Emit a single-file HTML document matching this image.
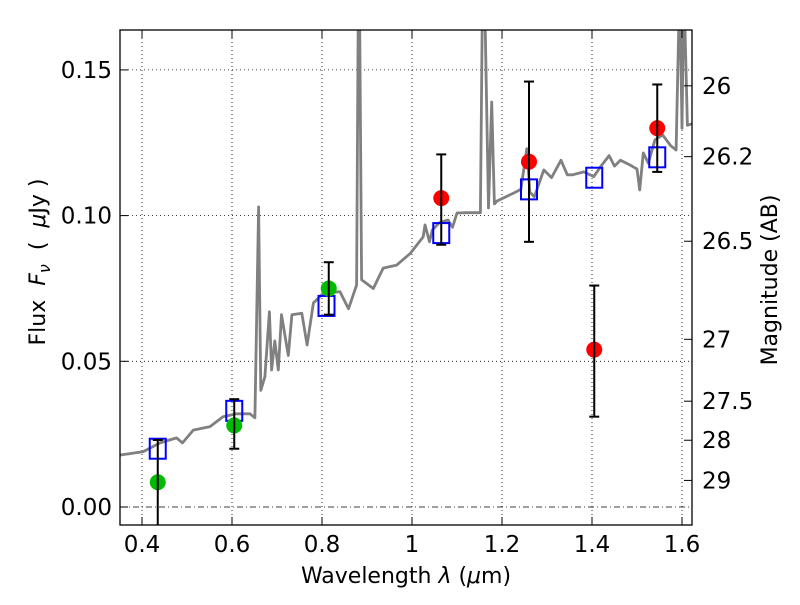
<!DOCTYPE html>
<html><head><meta charset="utf-8"><style>
body{margin:0;background:#fff;}
svg{font-family:"DejaVu Sans","Liberation Sans",sans-serif;}
</style></head><body>
<svg id="chart" width="800" height="600" xmlns="http://www.w3.org/2000/svg">
<defs><clipPath id="clip"><rect x="120" y="30" width="572" height="495"/></clipPath></defs>
<rect x="0" y="0" width="800" height="600" fill="#fff"/>
<g id="grid"></g>
<g id="series" clip-path="url(#clip)"></g>
<rect x="120" y="30" width="572" height="495" fill="none" stroke="#000" stroke-width="1.3"/>
<g id="axes"></g>
<text x="406" y="583" font-size="22" text-anchor="middle">Wavelength  <tspan font-style="italic">λ</tspan> (<tspan font-style="italic">μ</tspan>m)</text>
<text transform="translate(45,262) rotate(-90)" font-size="22" text-anchor="middle" xml:space="preserve">Flux  <tspan font-style="italic">F</tspan><tspan font-style="italic" font-size="16" dy="5">ν</tspan><tspan dy="-5">  (  </tspan><tspan font-style="italic">μ</tspan>Jy )</text>
<text transform="translate(777,280) rotate(-90)" font-size="22" text-anchor="middle">Magnitude (AB)</text>
</svg>
<script>
const specLam=[0.351,0.403,0.44,0.477,0.49,0.514,0.551,0.58,0.61,0.64,0.651,0.659,0.664,0.673,0.683,0.688,0.695,0.703,0.71,0.725,0.733,0.755,0.767,0.781,0.803,0.84,0.859,0.877,0.881,0.883,0.888,0.914,0.936,0.966,0.996,1.025,1.029,1.039,1.045,1.06,1.08,1.09,1.1,1.12,1.152,1.157,1.161,1.17,1.177,1.183,1.189,1.225,1.242,1.255,1.262,1.272,1.293,1.31,1.331,1.345,1.357,1.382,1.404,1.42,1.438,1.45,1.463,1.484,1.5,1.506,1.514,1.525,1.54,1.557,1.575,1.587,1.595,1.6,1.604,1.612,1.622];
const specFlux=[0.0178,0.019,0.022,0.0237,0.022,0.0264,0.0276,0.031,0.032,0.032,0.0306,0.103,0.040,0.0447,0.067,0.047,0.057,0.047,0.066,0.052,0.066,0.0665,0.0556,0.070,0.0734,0.0739,0.068,0.0762,0.18,0.18,0.078,0.075,0.082,0.083,0.087,0.0927,0.0968,0.091,0.095,0.0975,0.0985,0.096,0.1009,0.101,0.101,0.18,0.18,0.1026,0.139,0.104,0.105,0.1077,0.109,0.123,0.108,0.1065,0.1157,0.113,0.119,0.114,0.114,0.115,0.1134,0.117,0.1206,0.117,0.119,0.1174,0.116,0.1088,0.1215,0.118,0.126,0.1277,0.124,0.1225,0.18,0.13,0.18,0.131,0.1315];
const greenLam=[0.435,0.605,0.815];
const greenFlux=[0.0085,0.028,0.075];
const greenLo=[-0.007,0.020,0.066];
const greenHi=[0.023,0.037,0.084];
const redLam=[1.065,1.26,1.405,1.545];
const redFlux=[0.106,0.1185,0.054,0.130];
const redLo=[0.090,0.091,0.031,0.115];
const redHi=[0.121,0.146,0.076,0.145];
const modelLam=[0.435,0.605,0.81,1.065,1.26,1.405,1.545];
const modelFlux=[0.020,0.033,0.069,0.094,0.109,0.113,0.120];
const xTicks=[0.4,0.6,0.8,1.0,1.2,1.4,1.6];
const xTickLabels=["0.4","0.6","0.8","1","1.2","1.4","1.6"];
const yTicks=[0,0.05,0.10,0.15];
const yTickLabels=["0.00","0.05","0.10","0.15"];
const magTicks=[26,26.2,26.5,27,27.5,28,29];
const magTickLabels=["26","26.2","26.5","27","27.5","28","29"];

const NS="http://www.w3.org/2000/svg";
const X=l=>142+(l-0.4)*450;
const Y=f=>507-f*2914;
const magToFlux=m=>Math.pow(10,(23.9-m)/2.5);
function mk(tag,attrs,parent){const e=document.createElementNS(NS,tag);for(const k in attrs)e.setAttribute(k,attrs[k]);parent.appendChild(e);return e;}
const grid=document.getElementById('grid'),series=document.getElementById('series'),axes=document.getElementById('axes');

xTicks.forEach((v,i)=>{
  const g=mk('line',{x1:X(v),x2:X(v),y1:30,y2:525,stroke:'#000','stroke-width':0.8,'stroke-dasharray':'1,3'},grid);
  
  
  mk('line',{x1:X(v),x2:X(v),y1:525,y2:517,stroke:'#000'},axes);
  mk('line',{x1:X(v),x2:X(v),y1:30,y2:38,stroke:'#000'},axes);
  const t=mk('text',{x:X(v),y:552,'font-size':23,'text-anchor':'middle'},axes);
  t.textContent=xTickLabels[i];
  
  
});
yTicks.forEach((v,i)=>{
  const g=mk('line',{x1:120,x2:692,y1:Y(v),y2:Y(v),stroke:'#000','stroke-width':0.8,'stroke-dasharray':v===0?'6,3,1,3':'1,3'},grid);
  
  
  mk('line',{x1:120,x2:128,y1:Y(v),y2:Y(v),stroke:'#000'},axes);
  const t=mk('text',{x:112,y:Y(v)+8,'font-size':23,'text-anchor':'end'},axes);
  t.textContent=yTickLabels[i];
  
  
});
magTicks.forEach((m,i)=>{
  const y=Y(magToFlux(m));
  mk('line',{x1:692,x2:684,y1:y,y2:y,stroke:'#000'},axes);
  const t=mk('text',{x:702,y:y+8,'font-size':23,'text-anchor':'start'},axes);
  t.textContent=magTickLabels[i];
  
  
});

const pts=specLam.map((l,i)=>X(l).toFixed(1)+','+Y(specFlux[i]).toFixed(1)).join(' ');
const sp=mk('polyline',{points:pts,fill:'none',stroke:'#808080','stroke-width':2.8,'stroke-linejoin':'round'},series);



function errbar(l,lo,hi){
  const g=mk('g',{stroke:'#000','stroke-width':2},series);
  
  
  mk('line',{x1:X(l),x2:X(l),y1:Y(lo),y2:Y(hi)},g);
  mk('line',{x1:X(l)-5,x2:X(l)+5,y1:Y(lo),y2:Y(lo)},g);
  mk('line',{x1:X(l)-5,x2:X(l)+5,y1:Y(hi),y2:Y(hi)},g);
}
modelLam.forEach((l,i)=>{
  const r=mk('rect',{x:X(l)-8,y:Y(modelFlux[i])-10,width:16,height:20,fill:'none',stroke:'#0000ff','stroke-width':2},series);
  
  
});
greenLam.forEach((l,i)=>{
  const c=mk('circle',{cx:X(l),cy:Y(greenFlux[i]),r:8,fill:'#00bb00'},series);
  
  
  errbar(l,greenLo[i],greenHi[i]);
});
redLam.forEach((l,i)=>{
  const c=mk('circle',{cx:X(l),cy:Y(redFlux[i]),r:8,fill:'#ff0000'},series);
  
  
  errbar(l,redLo[i],redHi[i]);
});
</script>
</body></html>
